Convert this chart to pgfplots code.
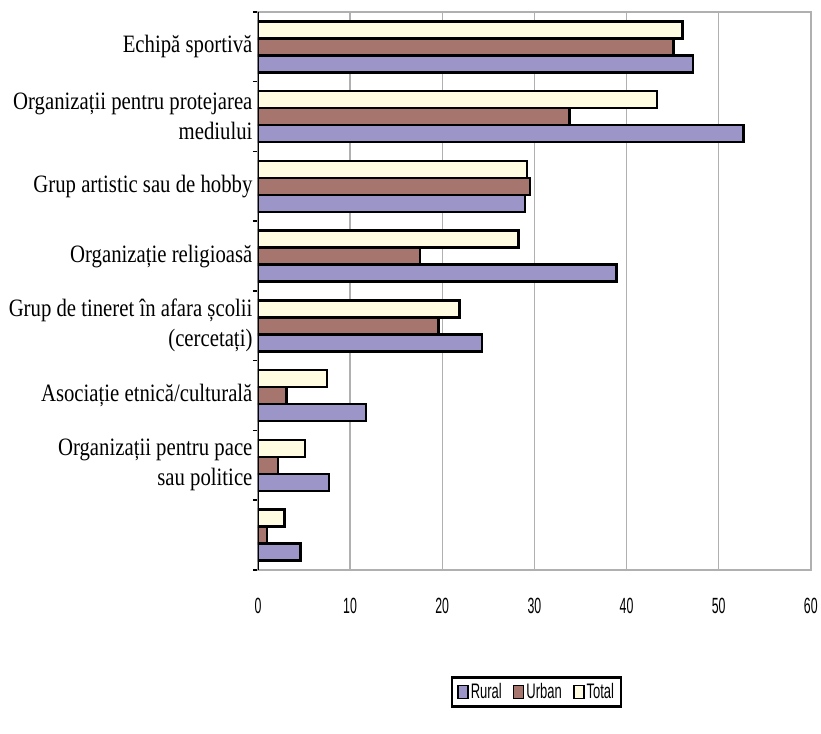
\documentclass[border=0pt]{standalone}
\usepackage{fontspec}
\setmainfont{Liberation Serif}
\newfontfamily\catfont{Liberation Serif}[FakeStretch=0.83]
\newfontfamily\tickfont{Liberation Sans}[FakeStretch=0.56]
\newfontfamily\legfont{Liberation Sans}[FakeStretch=0.62]
\usepackage{pgfplots}
\pgfplotsset{compat=1.18}
\definecolor{rural}{RGB}{156,150,200}
\definecolor{urban}{RGB}{166,118,110}
\definecolor{total}{RGB}{255,252,225}
\definecolor{gridgray}{RGB}{176,176,176}
\begin{document}
\begin{tikzpicture}[x=1pt,y=1pt]
\path (0,0) rectangle (821,734);
\begin{axis}[
    at={(258pt,164pt)}, anchor=south west,
    scale only axis,
    width=553pt, height=558pt,
    xbar=0pt, bar width=17pt,
    xmin=0, xmax=60,
    ymin=-0.5, ymax=7.5,
    xtick={0,10,...,60},
    xmajorgrids=true,
    grid style={gridgray, line width=1.2pt},
    axis line style={gridgray, line width=1.5pt},
    xtick style={draw=none},
    ytick={0,...,7},
    yticklabels={{},
        {Organizații pentru pace\\sau politice},
        {Asociație etnică/culturală},
        {Grup de tineret în afara școlii\\(cercetați)},
        {Organizație religioasă},
        {Grup artistic sau de hobby},
        {Organizații pentru protejarea\\mediului},
        {Echipă sportivă}},
    major tick length=0pt,
    minor ytick={-0.5,0.5,...,7.5},
    minor tick length=5pt,
    tick align=outside,
    ytick pos=left,
    minor tick style={black, line width=1.5pt},
    yticklabel style={font=\catfont\fontsize{25}{30}\selectfont, align=right, xshift=-2pt},
    xticklabel style={font=\tickfont\fontsize{22}{22}\selectfont, yshift=-25pt},
    /pgf/number format/assume math mode=true,
    legend columns=3,
    legend style={at={(0.504,-0.219)}, anchor=center, draw=black, line width=2.4pt,
        font=\legfont\fontsize{21}{21}\selectfont, inner xsep=5pt, inner ysep=4pt,
        /tikz/every even column/.append style={column sep=9pt}},
    legend image code/.code={\draw[#1, line width=1.6pt] (0pt,-6.5pt) rectangle (10pt,6.5pt);},
]
\addplot[draw=black, fill=rural, line width=2.5pt] coordinates {
    (4.6,0) (7.7,1) (11.7,2) (24.3,3) (38.9,4) (29.0,5) (52.7,6) (47.2,7)
};
\addplot[draw=black, fill=urban, line width=2.5pt] coordinates {
    (1.0,0) (2.2,1) (3.1,2) (19.6,3) (17.6,4) (29.5,5) (33.8,6) (45.1,7)
};
\addplot[draw=black, fill=total, line width=2.5pt] coordinates {
    (2.9,0) (5.1,1) (7.5,2) (21.9,3) (28.3,4) (29.2,5) (43.3,6) (46.1,7)
};
\legend{Rural, Urban, Total}
\draw[black, line width=1.5pt] (rel axis cs:0,0) -- (rel axis cs:0,1);
\end{axis}
\end{tikzpicture}
\end{document}
